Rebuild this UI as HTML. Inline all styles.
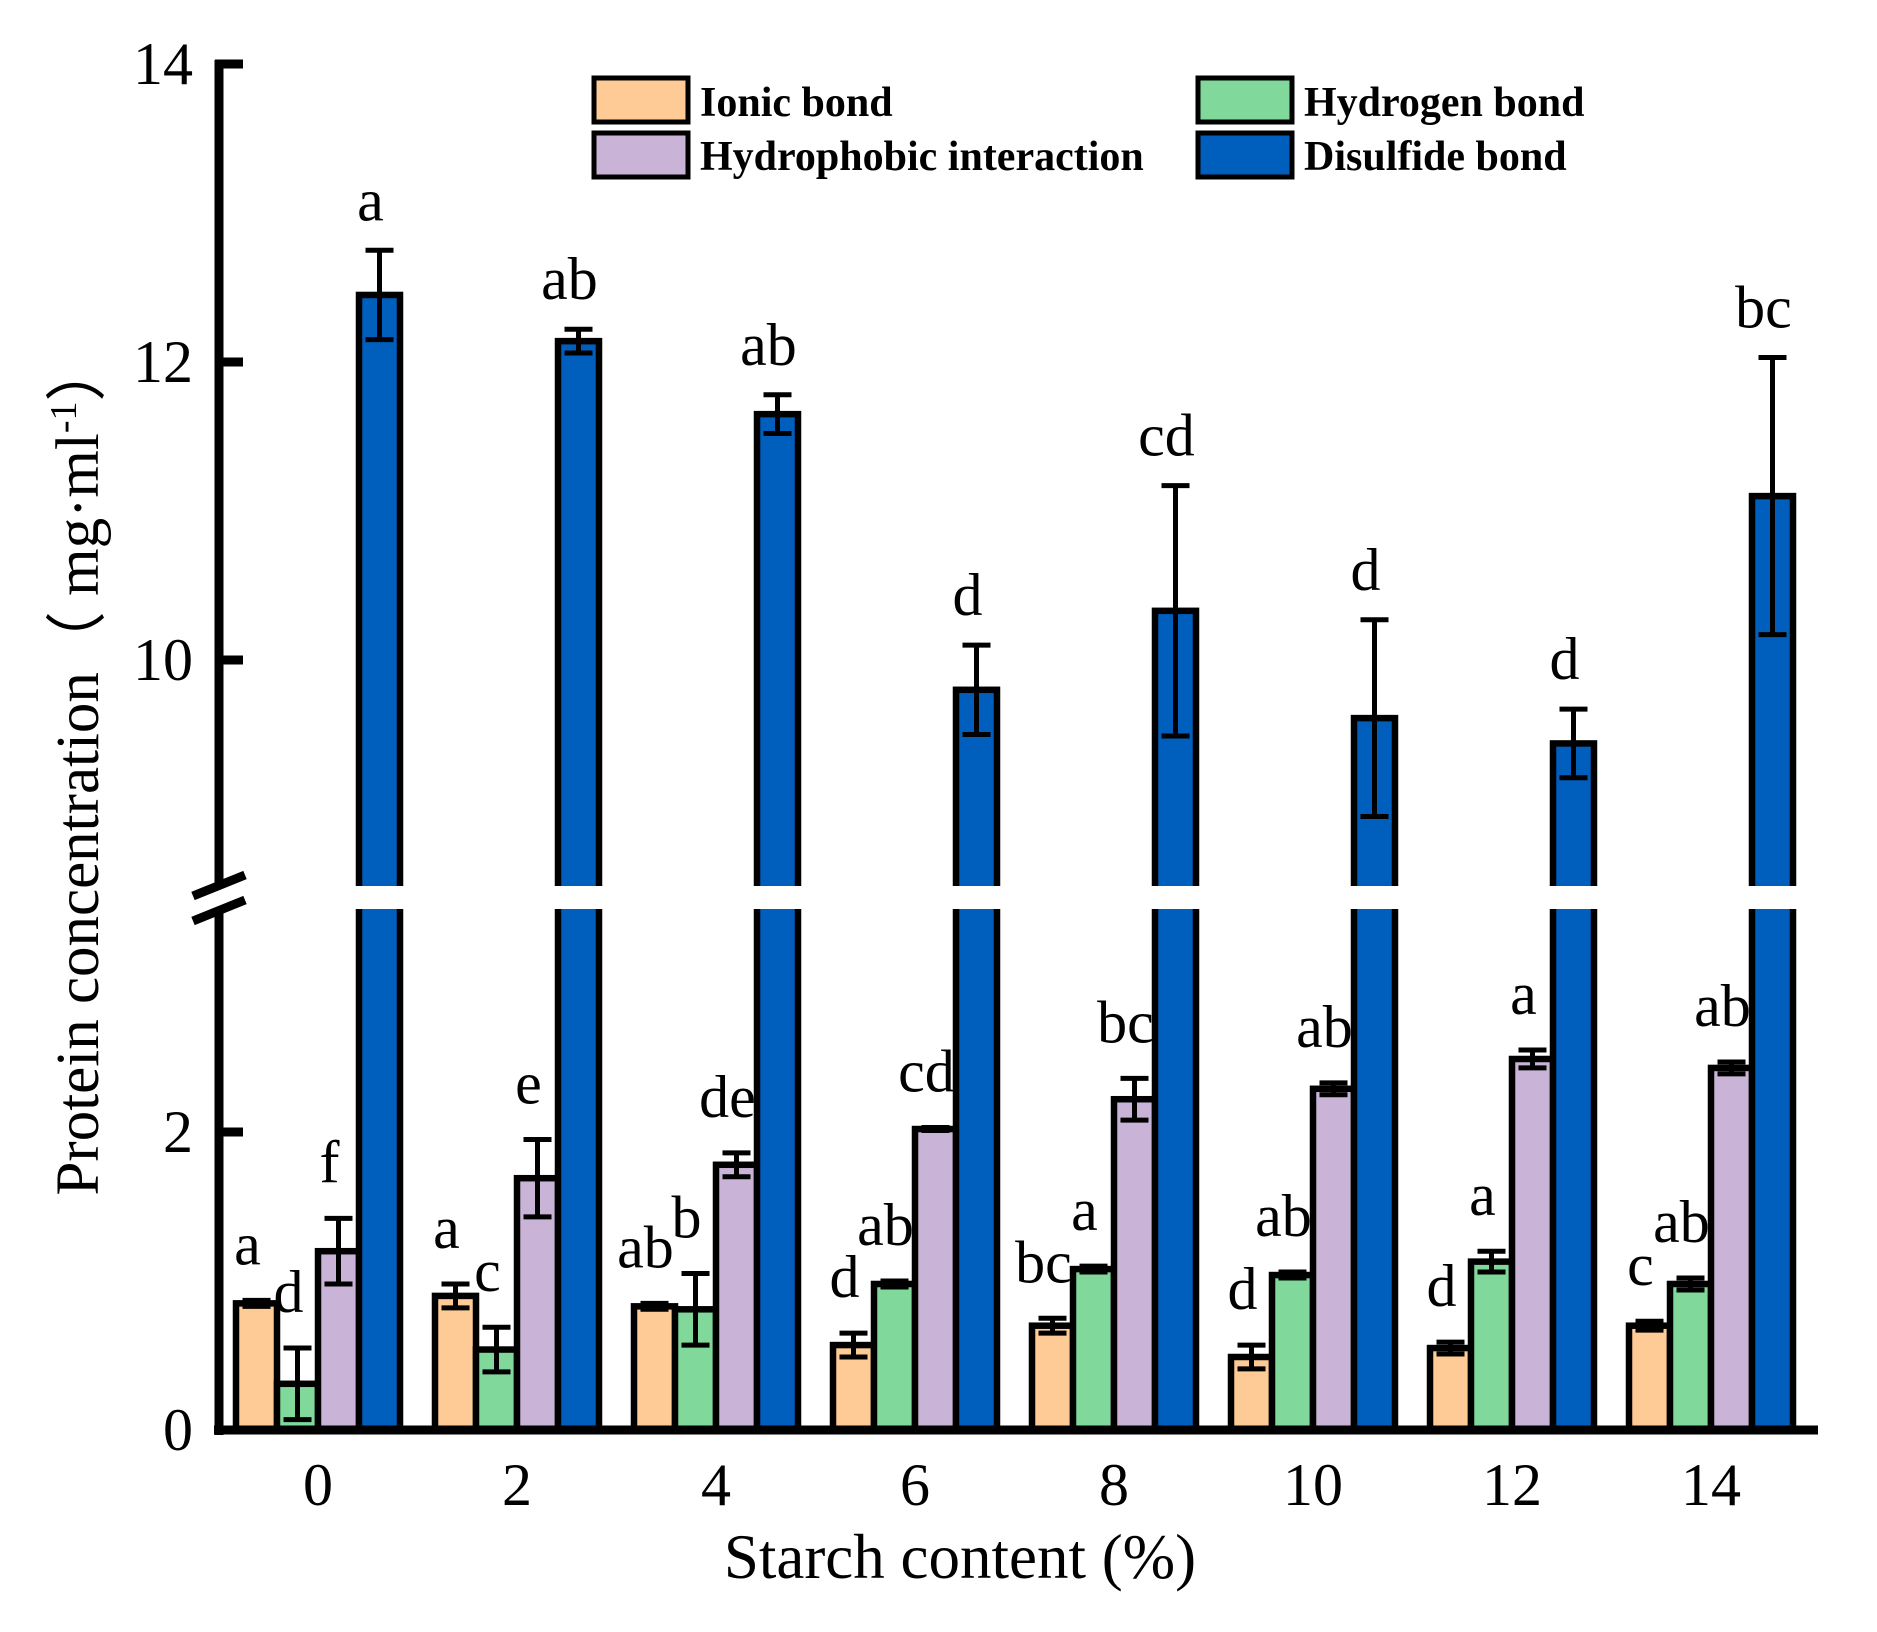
<!DOCTYPE html>
<html><head><meta charset="utf-8">
<style>
html,body{margin:0;padding:0;background:#fff;}
svg{display:block;}
text{font-family:"Liberation Serif",serif;fill:#000;}
</style></head>
<body>
<svg id="chart" width="1877" height="1632" viewBox="0 0 1877 1632" xmlns="http://www.w3.org/2000/svg">
<g id="bars"></g>
<rect x="226" y="886" width="1600" height="23" fill="#fff"/>
<g id="axes"></g>
<g id="legend">
  <rect x="594" y="78" width="94" height="44" fill="#FECA95" stroke="#000" stroke-width="5"/>
  <text x="700" y="116" font-size="42" font-weight="bold">Ionic bond</text>
  <rect x="1198" y="78" width="94" height="44" fill="#80D89B" stroke="#000" stroke-width="5"/>
  <text x="1304" y="116" font-size="42" font-weight="bold">Hydrogen bond</text>
  <rect x="594" y="133" width="94" height="44" fill="#C9B3D6" stroke="#000" stroke-width="5"/>
  <text x="700" y="170" font-size="42" font-weight="bold">Hydrophobic interaction</text>
  <rect x="1198" y="133" width="94" height="44" fill="#005EBD" stroke="#000" stroke-width="5"/>
  <text x="1304" y="170" font-size="42" font-weight="bold">Disulfide bond</text>
</g>
<text transform="translate(98,768) rotate(-90)" text-anchor="middle" font-size="61" font-family="Liberation Serif, Noto Serif CJK SC, serif">Protein concentration（ mg·ml<tspan font-size="38" dy="-22">-1</tspan><tspan dy="22">）</tspan></text>
<text x="960" y="1578" text-anchor="middle" font-size="63">Starch content (%)</text>
</svg>
<script>
const categories = ["0","2","4","6","8","10","12","14"];
const ionic = [0.85,0.90,0.83,0.57,0.70,0.49,0.55,0.70];
const ionicErr = [0.02,0.08,0.02,0.08,0.05,0.08,0.04,0.03];
const hydrogen = [0.31,0.54,0.81,0.98,1.08,1.04,1.13,0.98];
const hydrogenErr = [0.24,0.15,0.24,0.02,0.02,0.02,0.07,0.04];
const hydrophobic = [1.20,1.69,1.78,2.02,2.22,2.29,2.49,2.43];
const hydrophobicErr = [0.22,0.26,0.08,0.01,0.14,0.04,0.06,0.04];
const disulfide = [12.45,12.14,11.65,9.80,10.33,9.61,9.44,11.10];
const disulfideErr = [0.30,0.08,0.13,0.30,0.84,0.66,0.23,0.93];
const ionicLetters = ["a","a","ab","d","bc","d","d","c"];
const hydrogenLetters = ["d","c","b","ab","a","ab","a","ab"];
const hydrophobicLetters = ["f","e","de","cd","bc","ab","a","ab"];
const disulfideLetters = ["a","ab","ab","d","cd","d","d","bc"];
const yTicksLower = [0,2];
const yTicksUpper = [10,12,14];

const NS = "http://www.w3.org/2000/svg";
function y(v){ return v <= 3.5 ? 1430 - 149*v : 660 - 149*(v-10); }
function groupX(i){ return 318 + i*199; }
const barW = 41;
function mk(tag, attrs, parent){
  const e = document.createElementNS(NS, tag);
  for (const k in attrs) e.setAttribute(k, attrs[k]);
  parent.appendChild(e); return e;
}
const barsG = document.getElementById('bars');
const series = [
  {vals: ionic, err: ionicErr, lab: ionicLetters, color: "#FECA95", name: "ionic"},
  {vals: hydrogen, err: hydrogenErr, lab: hydrogenLetters, color: "#80D89B", name: "hydrogen"},
  {vals: hydrophobic, err: hydrophobicErr, lab: hydrophobicLetters, color: "#C9B3D6", name: "hydrophobic"},
  {vals: disulfide, err: disulfideErr, lab: disulfideLetters, color: "#005EBD", name: "disulfide"}
];
series.forEach((s, k) => {
  categories.forEach((c, i) => {
    const left = groupX(i) - 2*barW + k*barW;
    const top = y(s.vals[i]);
    const r = mk('rect', {x:left, y:top, width:barW, height:1430-top, fill:s.color, stroke:"#000", "stroke-width":6.5}, barsG);
    
    
    const cx = left + barW/2;
    const t = y(s.vals[i] + s.err[i]), b = y(s.vals[i] - s.err[i]);
    const eg = mk('g', {stroke:"#000", "stroke-width":5}, barsG);
    
    
    mk('line', {x1:cx, x2:cx, y1:t, y2:b}, eg);
    mk('line', {x1:cx-14, x2:cx+14, y1:t, y2:t}, eg);
    mk('line', {x1:cx-14, x2:cx+14, y1:b, y2:b}, eg);
    const lt = mk('text', {x:cx-9, y:t-(k==3?30:36), "text-anchor":"middle", "font-size":60}, barsG);
    
    
    lt.textContent = s.lab[i];
  });
});
const ax = document.getElementById('axes');
let l1 = mk('line', {x1:219, x2:219, y1:60, y2:888, stroke:"#000", "stroke-width":9}, ax);


let l2 = mk('line', {x1:219, x2:219, y1:912, y2:1435, stroke:"#000", "stroke-width":9}, ax);


let xa = mk('line', {x1:214, x2:1818, y1:1430, y2:1430, stroke:"#000", "stroke-width":9}, ax);


let b1 = mk('line', {x1:193, x2:245, y1:896, y2:875, stroke:"#000", "stroke-width":9}, ax);


let b2 = mk('line', {x1:193, x2:245, y1:921, y2:900, stroke:"#000", "stroke-width":9}, ax);


yTicksLower.concat(yTicksUpper).forEach(v => {
  const yy = y(v);
  const tk = mk('line', {x1:215, x2:243, y1:yy, y2:yy, stroke:"#000", "stroke-width":9}, ax);
  
  
  const tl = mk('text', {x:193, y:yy+20, "text-anchor":"end", "font-size":60}, ax);
  
  
  tl.textContent = v;
});
categories.forEach((c, i) => {
  const tl = mk('text', {x:groupX(i), y:1505, "text-anchor":"middle", "font-size":60}, ax);
  
  
  tl.textContent = c;
});
</script>
</body></html>
